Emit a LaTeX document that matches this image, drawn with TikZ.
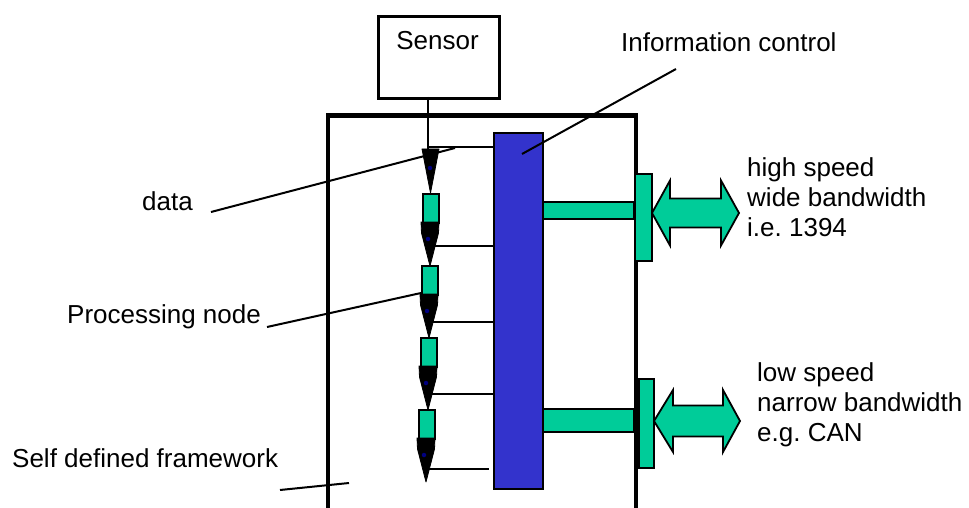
\documentclass[tikz,border=0pt]{standalone}
\usepackage{fontspec}
\setmainfont{Liberation Sans}
\frenchspacing
\definecolor{grn}{HTML}{00CC99}
\definecolor{blu}{HTML}{3333CC}
\definecolor{dotc}{HTML}{000080}
\begin{document}
\frenchspacing
\begin{tikzpicture}[x=1pt,y=-1pt,
  lbl/.style={inner sep=0pt, font=\fontsize{26}{30}\selectfont\frenchspacing, align=left},
  thin line/.style={line width=2pt},
  gbox/.style={draw=black, fill=grn, line width=1.8pt},
  blk/.style={fill=black, draw=black, line width=0.8pt, line join=round},
  dotn/.style={circle, fill=dotc, inner sep=0pt, minimum size=4.5pt},
  rectn/.style={draw, inner sep=0pt, anchor=north west}
]
\useasboundingbox (0,0) rectangle (969,508);
\clip (0,0) rectangle (969,508);
% framework
\draw[line width=4.5pt] (328,560) -- (328,115.5) -- (636,115.5) -- (636,560);
% sensor
\node[rectn, line width=3pt, minimum width=121pt, minimum height=82pt] (sensor) at (377,15) {};
\node[lbl, anchor=base] (sensortxt) at (437.5,50) {Sensor};
% information control bar
\node[rectn, fill=blu, line width=2pt, minimum width=49pt, minimum height=356pt] (ic) at (493,132) {};
% chain
\coordinate (s0) at (428,97);
\coordinate (t0) at (428,149);
\draw[thin line] (s0) -- (t0);
\fill[blk] (422,149) -- (439,149) -- (430.5,193) -- cycle;
\node[dotn] (d0) at (430,168) {};
\coordinate (h0) at (428,147);
\draw[thin line] (h0) -- (h0 -| ic.west);
% processing nodes: cx, green top
\foreach \cx/\gt/\hy/\i in {430/193/246/1, 429/265/322/2, 428/337/394/3, 426/409/469/4}{
  \node[gbox, rectn, minimum width=16pt, minimum height=29pt] (p\i) at (\cx-8,\gt) {};
  \fill[blk] (\cx-9,\gt+29) -- (\cx+9,\gt+29) -- (\cx+8.5,\gt+40) -- (\cx,\gt+73) -- (\cx-8.5,\gt+40) -- cycle;
  \node[dotn] (d\i) at (\cx-2,\gt+46) {};
  \coordinate (h\i) at (\cx+1,\hy);
}
\draw[thin line] (h1) -- (h1 -| ic.west);
\draw[thin line] (h2) -- (h2 -| ic.west);
\draw[thin line] (h3) -- (h3 -| ic.west);
\coordinate (h4e) at (489,469);
\draw[thin line] (h4) -- (h4e);
% high speed bus
\node[gbox, rectn, minimum width=91pt, minimum height=17pt] (bus1) at (542,201) {};
\node[gbox, rectn, minimum width=17pt, minimum height=87pt] (plate1) at (634,173) {};
\draw[gbox, line join=miter] (652,213) -- (670,180.5) -- (670,198.5) -- (721,198.5) -- (721,180.5) -- (739,213)
  -- (721,245.5) -- (721,227.5) -- (670,227.5) -- (670,245.5) -- cycle;
% low speed bus
\node[gbox, rectn, minimum width=91pt, minimum height=23pt] (bus2) at (542,408) {};
\node[gbox, rectn, minimum width=15pt, minimum height=89pt] (plate2) at (638,378) {};
\draw[gbox, line join=miter] (654,421) -- (673,390) -- (673,405.5) -- (723,405.5) -- (723,390) -- (740,421)
  -- (723,452) -- (723,436.5) -- (673,436.5) -- (673,452) -- cycle;
% labels
\node[lbl, anchor=base west] (infotxt) at (621,52) {Information control};
\coordinate (ia) at (522,154);
\coordinate (ib) at (676,69);
\draw[thin line] (ia) -- (ib);
\node[lbl, anchor=base west] (hs) at (747,236) {high speed\\wide bandwidth\\i.e. 1394};
\node[lbl, anchor=base west] (ls) at (757,441) {low speed\\narrow bandwidth\\e.g. CAN};
\node[lbl, anchor=base west] (datatxt) at (142,210) {data};
\coordinate (da) at (211,212);
\coordinate (db) at (455,148);
\draw[thin line] (da) -- (db);
\node[lbl, anchor=base west] (proctxt) at (67,323) {Processing node};
\coordinate (pa) at (267,327);
\coordinate (pb) at (421,293);
\draw[thin line] (pa) -- (pb);
\node[lbl, anchor=base west] (fwtxt) at (12,467) {Self defined framework};
\coordinate (fa) at (280,490);
\coordinate (fb) at (349,483);
\draw[thin line] (fa) -- (fb);
\end{tikzpicture}
\end{document}
